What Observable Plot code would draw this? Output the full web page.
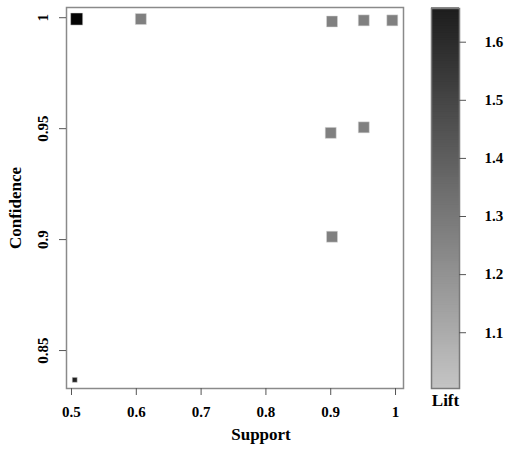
<!DOCTYPE html>
<html><head><meta charset="utf-8">
<script src="https://cdn.jsdelivr.net/npm/d3@7"></script>
<script src="https://cdn.jsdelivr.net/npm/@observablehq/plot@0.6"></script>
<style>
body{margin:0;background:#fff;}
#wrap{position:relative;width:509px;height:450px;}
#wrap svg{position:absolute;top:0;}
svg{font-family:"Liberation Serif","Times New Roman",serif;font-weight:bold;}
</style></head>
<body><div id="wrap"></div>
<script>
const support    = [0.508, 0.607, 0.902, 0.951, 0.995, 0.900, 0.951, 0.902, 0.505];
const confidence = [0.9994, 0.9994, 0.9983, 0.9988, 0.9988, 0.9481, 0.9506, 0.9013, 0.8368];
const lift       = [1.75, 1.27, 1.27, 1.27, 1.27, 1.27, 1.27, 1.27, 1.64];
const xTicks = [0.5, 0.6, 0.7, 0.8, 0.9, 1];
const yTicks = [0.85, 0.9, 0.95, 1];
const liftTicks = [1.1, 1.2, 1.3, 1.4, 1.5, 1.6];

const rules = support.map((s, i) => ({support: s, confidence: confidence[i], lift: lift[i]}));
const liftDomain = [1.004, 1.658];
const grayRange = ["#c4c4c4", "#1c1c1c"];
const fmt = d => d === 1 ? "1" : String(d);
const font = "Liberation Serif, Times New Roman, serif";

const main = Plot.plot({
  width: 420, height: 450,
  marginLeft: 66, marginRight: 17, marginTop: 7, marginBottom: 62,
  style: {fontSize: "15px", fontFamily: font, fontWeight: "bold", color: "#000"},
  x: {domain: [0.4923, 1.0123], ticks: xTicks, tickFormat: fmt, label: null},
  y: {domain: [0.8329, 1.0046], ticks: yTicks, tickFormat: fmt, label: null},
  r: {type: "identity"},
  color: {type: "linear", domain: liftDomain, range: grayRange, clamp: false},
  marks: [
    Plot.frame({stroke: "#8a8a8a", strokeWidth: 1.5}),
    Plot.axisX({ticks: xTicks, tickFormat: fmt, tickSize: 7, tickPadding: 11, stroke: "#555", fontSize: 15, fontWeight: "bold", label: null}),
    Plot.axisY({ticks: yTicks, tickFormat: fmt, tickSize: 7, tickPadding: 12, tickRotate: -90, stroke: "#555", fontSize: 15, fontWeight: "bold", label: null}),
    Plot.dot(rules, {
      x: "support", y: "confidence", symbol: "square",
      r: d => d.confidence < 0.85 ? 2.8 : d.lift > 1.7 ? 6.8 : 6.2,
      fill: "lift", stroke: "#d8d8d8", strokeWidth: 0.5
    }),
    Plot.text(["Support"], {frameAnchor: "bottom", textAnchor: "middle", dx: 26, dy: 51, fontSize: 17, fontWeight: "bold"}),
    Plot.text(["Confidence"], {frameAnchor: "left", textAnchor: "middle", dx: -51, dy: 10, rotate: -90, fontSize: 17, fontWeight: "bold"})
  ]
});

const steps = d3.range(liftDomain[0], liftDomain[1], 0.004);
const bar = Plot.plot({
  width: 89, height: 450,
  marginLeft: 11, marginRight: 50, marginTop: 8, marginBottom: 62,
  style: {fontSize: "15px", fontFamily: font, fontWeight: "bold", color: "#000", overflow: "visible"},
  x: {axis: null, domain: [0, 1]},
  y: {domain: liftDomain, axis: null},
  color: {type: "linear", domain: liftDomain, range: grayRange},
  marks: [
    Plot.rect(steps, {x1: 0, x2: 1, y1: d => d, y2: d => Math.min(d + 0.004, liftDomain[1]), fill: d => d, insetTop: -0.5, insetBottom: -0.5}),
    Plot.frame({stroke: "#7a7a7a", strokeWidth: 1.5}),
    Plot.ruleY(liftTicks, {y: d => d, x1: 1, x2: 1.25, stroke: "#555", clip: false}),
    Plot.text(liftTicks, {y: d => d, text: d => d.toFixed(1), frameAnchor: "right", textAnchor: "start", dx: 25, fontSize: 15, fontWeight: "bold"}),
    Plot.text(["Lift"], {frameAnchor: "bottom", dy: 17, fontSize: 17, fontWeight: "bold"})
  ]
});
main.style.left = "0px";
bar.style.left = "420px";
document.getElementById("wrap").append(main, bar);
</script></body></html>
